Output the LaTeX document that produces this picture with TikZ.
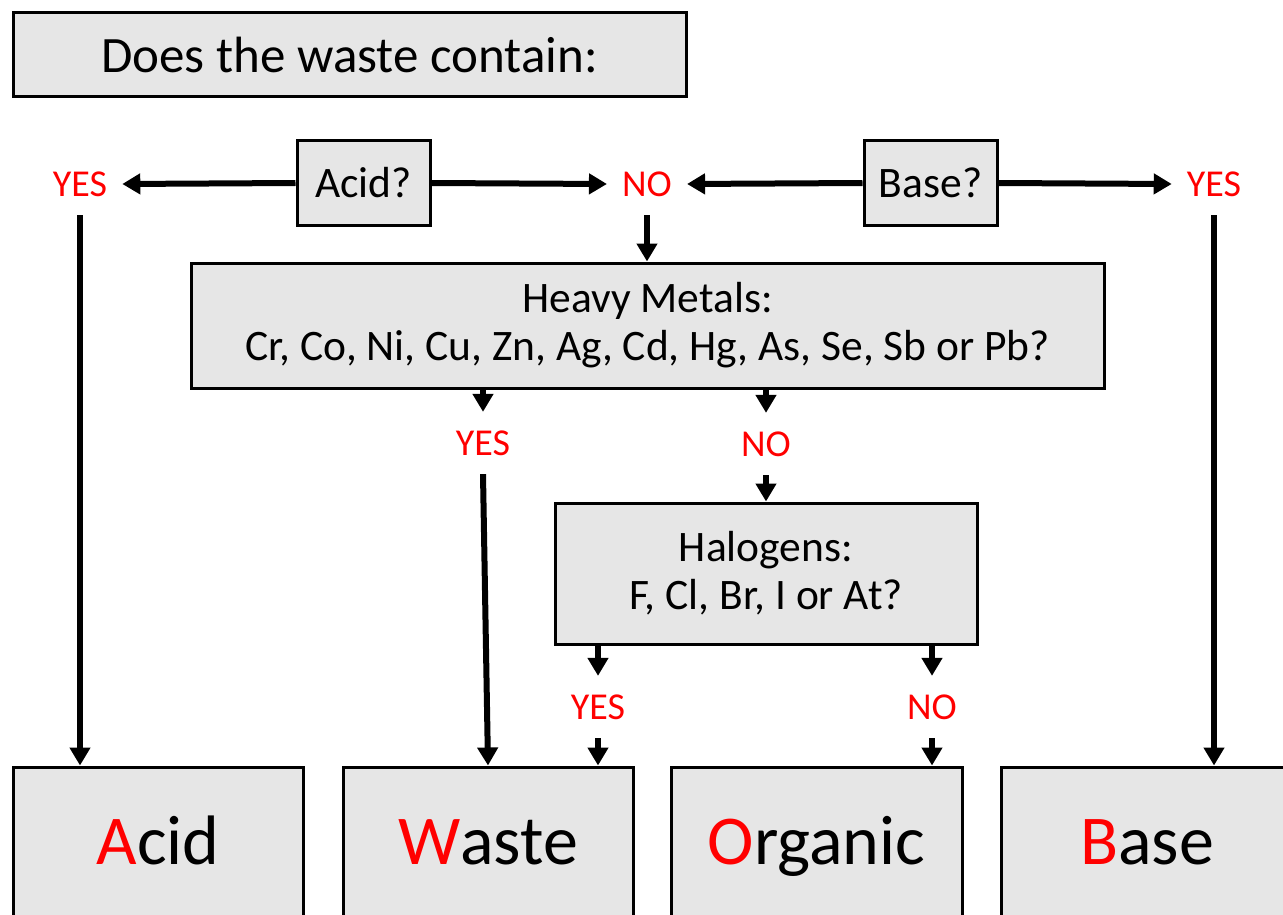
\documentclass[tikz,border=0pt]{standalone}
\usepackage{fontspec}
\setmainfont{Carlito}
\usetikzlibrary{arrows.meta}
\definecolor{boxgray}{RGB}{230,230,230}
\definecolor{ansred}{RGB}{255,0,0}
\begin{document}
\begin{tikzpicture}[x=1pt,y=-1pt,
  box/.style={draw=black, line width=3pt, fill=boxgray, inner sep=0pt, align=center},
  lbl/.style={text=ansred, font=\fontsize{38}{40}\selectfont, inner xsep=15pt, inner ysep=18.5pt},
  arr/.style={line width=6pt, -{Triangle[length=18pt,width=20pt]}},
  mid/.style={font=\fontsize{43.5}{48}\selectfont},
  big/.style={font=\fontsize{70}{80}\selectfont, anchor=base, inner sep=0pt}]
\useasboundingbox (0,0) rectangle (1283,915);
\clip (0,0) rectangle (1283,915);
% boxes
\node[box, minimum width=673pt, minimum height=84pt, font=\fontsize{51}{56}\selectfont] (title) at (349.5,55) {Does the waste contain:};
\node[box, mid, minimum width=133pt, minimum height=84pt] (acidq) at (363.5,183) {Acid?};
\node[box, mid, minimum width=133pt, minimum height=84pt] (baseq) at (930.5,183) {Base?};
\node[box, mid, minimum width=913pt, minimum height=125pt] (metals) at (647.5,325.5) {Heavy Metals:\\Cr, Co, Ni, Cu, Zn, Ag, Cd, Hg, As, Se, Sb or Pb?};
\node[box, mid, minimum width=422pt, minimum height=141pt] (halo) at (766,573.5) {Halogens:\\F, Cl, Br, I or At?};
\node[box, minimum width=290pt, minimum height=173pt] (acidbox) at (158,853.5) {};
\node[box, minimum width=290pt, minimum height=173pt] (wastebox) at (488,853.5) {};
\node[box, minimum width=291pt, minimum height=173pt] (orgbox) at (816.5,853.5) {};
\node[box, minimum width=292pt, minimum height=173pt] (basebox) at (1147,853.5) {};
\node[big] (acidtxt) at (158,864) {\textcolor{ansred}{A}cid};
\node[big] (wastetxt) at (488,864) {\textcolor{ansred}{W}aste};
\node[big] (orgtxt) at (816.5,864) {\textcolor{ansred}{O}rganic};
\node[big] (basetxt) at (1147,864) {\textcolor{ansred}{B}ase};
% labels
\node[lbl] (yesA) at (80,184) {YES};
\node[lbl] (noAB) at (647,184) {NO};
\node[lbl] (yesB) at (1214,184) {YES};
\node[lbl] (yesM) at (483,443) {YES};
\node[lbl] (noM) at (766,444) {NO};
\node[lbl] (yesH) at (598,707) {YES};
\node[lbl] (noH) at (932,707) {NO};
% connectors
\draw[arr] (acidq.west) -- (yesA.east);
\draw[arr] (acidq.east) -- (noAB.west);
\draw[arr] (baseq.west) -- (noAB.east);
\draw[arr] (baseq.east) -- (yesB.west);
\draw[arr] (yesA.south) -- (yesA.south |- acidbox.north);
\draw[arr] (noAB.south) -- (noAB.south |- metals.north);
\draw[arr] (yesM.north |- metals.south) -- (yesM.north);
\draw[arr] (noM.north |- metals.south) -- (noM.north);
\draw[arr] (yesM.south) -- (wastebox.north);
\draw[arr] (noM.south) -- (noM.south |- halo.north);
\draw[arr] (yesH.north |- halo.south) -- (yesH.north);
\draw[arr] (noH.north |- halo.south) -- (noH.north);
\draw[arr] (yesH.south) -- (yesH.south |- wastebox.north);
\draw[arr] (noH.south) -- (noH.south |- orgbox.north);
\draw[arr] (yesB.south) -- (yesB.south |- basebox.north);
\end{tikzpicture}
\end{document}
